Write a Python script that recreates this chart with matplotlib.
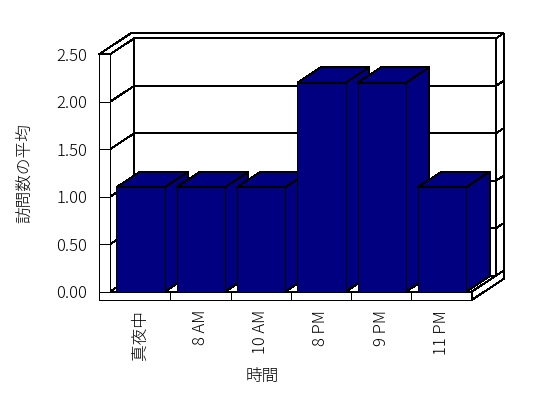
import matplotlib
matplotlib.use("Agg")
import matplotlib.pyplot as plt
from matplotlib.patches import Polygon

plt.rcParams['font.family'] = ['Noto Sans CJK JP', 'DejaVu Sans']
plt.rcParams['font.weight'] = 'light'

# data
categories = ['真夜中', '8 AM', '10 AM', '8 PM', '9 PM', '11 PM']
values = [1.1, 1.1, 1.1, 2.2, 2.2, 1.1]
yticks = [0.0, 0.5, 1.0, 1.5, 2.0, 2.5]
ytick_labels = ['0.00', '0.50', '1.00', '1.50', '2.00', '2.50']
x_title = '時間'
y_title = '訪問数の平均'

navy = '#000080'
lw = 0.7

# oblique "3D" look: depth shifts points right and up
DX = 0.403      # category units per wall depth
DY = 0.1685     # value units per wall depth
ZB = 1.317      # back face of the back wall
ZBAR = 0.96     # depth of the columns

n = len(categories)
XL0, XL1, XR = -0.6825, -0.5, n - 0.5
VTOP = yticks[-1]
VB = -0.0874    # floor thickness


def P(x, v, z):
    return (x + z * DX, v + z * DY)


fig = plt.figure(figsize=(5.48, 3.98), dpi=100)
ax = fig.add_axes([110 / 548, 1 - 291.7 / 398, 361.7 / 548, 237.4 / 398])
ax.set_xlim(-0.5, n - 0.5)
ax.set_ylim(0, VTOP)
ax.axis('off')


def face(pts, fc='white', z=1):
    ax.add_patch(Polygon(pts, closed=True, facecolor=fc, edgecolor='black',
                         linewidth=lw, clip_on=False, zorder=z,
                         antialiased=False, joinstyle='miter'))


def line(pts, z=2):
    xs = [p[0] for p in pts]
    ys = [p[1] for p in pts]
    ax.plot(xs, ys, color='black', lw=lw, clip_on=False, zorder=z,
            antialiased=False, solid_joinstyle='miter')


# walls and floor
face([P(XL1, 0, 1), P(XR, 0, 1), P(XR, VTOP, 1), P(XL1, VTOP, 1)])
face([P(XL1, 0, 0), P(XL1, 0, 1), P(XL1, VTOP, 1), P(XL1, VTOP, 0)])
face([P(XL1, 0, 0), P(XR, 0, 0), P(XR, 0, 1), P(XL1, 0, 1)])
for v in yticks[1:-1]:
    line([P(XL1, v, 0), P(XL1, v, 1), P(XR, v, 1)])

# columns, left to right so each one covers the side of the previous
for i, v in enumerate(values):
    x0, x1 = i - 0.393, i + 0.41
    face([P(x1, 0, 0), P(x1, 0, ZBAR), P(x1, v, ZBAR), P(x1, v, 0)], navy, 3)
    face([P(x0, v, 0), P(x1, v, 0), P(x1, v, ZBAR), P(x0, v, ZBAR)], navy, 3)
    face([P(x0, 0, 0), P(x1, 0, 0), P(x1, v, 0), P(x0, v, 0)], navy, 3)

# front slab (left wall + floor edge), top strip and right side
face([P(XL0, VTOP, 0), P(XL1, VTOP, 0), P(XL1, 0, 0), P(XR, 0, 0),
      P(XR, VB, 0), P(XL0, VB, 0)], z=4)
face([P(XL0, VTOP, 0), P(XL1, VTOP, 0), P(XL1, VTOP, 1), P(XR, VTOP, 1),
      P(XR, VTOP, ZB), P(XL0, VTOP, ZB)], z=4)
face([P(XR, 0, 0), P(XR, VB, 0), P(XR, VB, ZB), P(XR, VTOP, ZB),
      P(XR, VTOP, 1), P(XR, 0, 1)], z=4)
for v in yticks[:-1]:
    line([P(XL0, v, 0), P(XL1, v, 0)], 5)
    line([P(XR, v, 1), P(XR, v, ZB)], 5)
for k in range(n - 1):
    line([P(k + 0.5, VB, 0), P(k + 0.5, 0, 0)], 5)

# tick labels
for v, lab in zip(yticks, ytick_labels):
    ax.text(XL0 - 0.2, v, lab, ha='right', va='center_baseline',
            fontsize=12, clip_on=False)
for i, lab in enumerate(categories):
    ax.text(i, VB - 0.105, lab, rotation=90, ha='center', va='top',
            fontsize=12, clip_on=False)

fig.text(262 / 548, 1 - 376 / 398, x_title, ha='center', va='center', fontsize=12)
fig.text(24.5 / 548, 1 - 173 / 398, y_title, ha='center', va='center',
         rotation=90, fontsize=12)

fig.savefig('out.png', dpi=100)
